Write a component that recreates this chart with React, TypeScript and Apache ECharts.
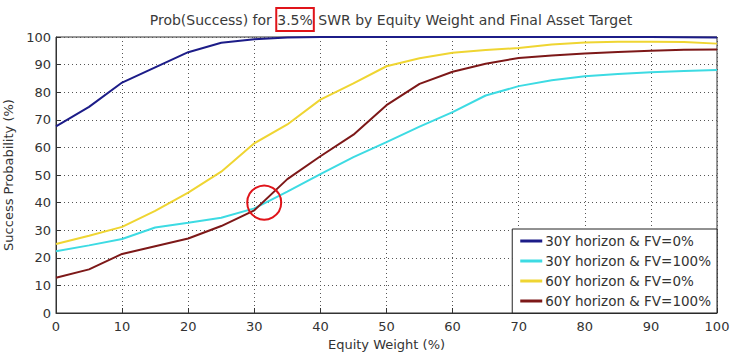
import React, { useEffect, useRef } from "react";
import * as echarts from "echarts";

const equityWeights = [0, 5, 10, 15, 20, 25, 30, 35, 40, 45, 50, 55, 60, 65, 70, 75, 80, 85, 90, 95, 100];
const s30FV0 = [67.6, 74.7, 83.5, 89.0, 94.5, 97.9, 99.2, 99.8, 100, 100, 100, 100, 100, 100, 100, 100, 100, 100, 100, 99.9, 99.8];
const s30FV100 = [22.4, 24.5, 26.8, 31.0, 32.7, 34.5, 37.9, 44.0, 50.3, 56.5, 61.9, 67.5, 72.8, 78.8, 82.2, 84.3, 85.8, 86.6, 87.2, 87.7, 88.0];
const s60FV0 = [25.0, 28.0, 31.2, 37.0, 43.6, 51.2, 61.5, 68.3, 77.3, 83.2, 89.4, 92.3, 94.3, 95.3, 96.0, 97.3, 98.0, 98.3, 98.3, 98.2, 97.6];
const s60FV100 = [12.8, 15.8, 21.4, 24.2, 27.0, 31.5, 37.2, 48.5, 56.8, 64.6, 75.3, 83.0, 87.4, 90.3, 92.4, 93.3, 94.0, 94.6, 95.0, 95.4, 95.5];
const seriesNames = ["30Y horizon & FV=0%", "30Y horizon & FV=100%", "60Y horizon & FV=0%", "60Y horizon & FV=100%"];
const seriesColors = ["#1c1c88", "#3ddbe3", "#efd532", "#7d1818"];
const highlightPoint = [31.5, 40];

const FONT = "DejaVu Sans";

export default function App() {
  const ref = useRef<HTMLDivElement>(null);
  useEffect(() => {
    if (!ref.current) return;
    const chart = echarts.init(ref.current, undefined, { renderer: "svg" });
    const allData = [s30FV0, s30FV100, s60FV0, s60FV100];
    const series: any[] = allData.map((vals, i) => ({
      name: seriesNames[i],
      type: "line",
      data: vals.map((v, j) => [equityWeights[j], v]),
      showSymbol: false,
      lineStyle: { color: seriesColors[i], width: 2 },
      itemStyle: { color: seriesColors[i] },
      z: 3,
    }));
    series[3].markPoint = {
      symbol: "circle",
      symbolSize: 34,
      silent: true,
      label: { show: false },
      itemStyle: { color: "transparent", borderColor: "#e0141a", borderWidth: 2 },
      data: [{ coord: highlightPoint }],
    };
    chart.setOption({
      animation: false,
      backgroundColor: "#ffffff",
      textStyle: { fontFamily: FONT },
      title: {
        text: "{a|Prob(Success) for }{b|3.5%}{a| SWR by Equity Weight and Final Asset Target}",
        left: 386,
        textAlign: "center",
        top: 3,
        textStyle: {
          fontWeight: "normal",
          rich: {
            a: { fontFamily: FONT, fontSize: 14, fontWeight: "normal", color: "#3a3a3a" },
            b: {
              fontFamily: FONT,
              fontSize: 14,
              fontWeight: "normal",
              color: "#3a3a3a",
              borderColor: "#e0141a",
              borderWidth: 2,
              padding: [5, 1, 4, 1],
            },
          },
        },
      },
      grid: {
        left: 56,
        right: 23,
        top: 37,
        bottom: 41,
        outerBoundsMode: "none",
        containLabel: false,
        show: true,
        borderColor: "#333333",
        borderWidth: 1,
        backgroundColor: "#ffffff",
      },
      legend: {
        data: seriesNames,
        orient: "vertical",
        right: 23,
        bottom: 41,
        backgroundColor: "#ffffff",
        borderColor: "#222222",
        borderWidth: 1,
        padding: [5, 6, 5, 8],
        itemGap: 6,
        itemWidth: 22,
        itemHeight: 3,
        icon: "rect",
        textStyle: { fontFamily: FONT, fontSize: 13.5, color: "#333333", padding: [0, 0, 0, -2] },
      },
      xAxis: {
        type: "value",
        min: 0,
        max: 100,
        interval: 10,
        name: "Equity Weight (%)",
        nameLocation: "middle",
        nameGap: 20,
        nameTextStyle: { fontFamily: FONT, fontSize: 13, color: "#333333" },
        axisLine: { lineStyle: { color: "#333333" } },
        axisTick: { inside: true, length: 5, lineStyle: { color: "#333333" } },
        axisLabel: { fontFamily: FONT, fontSize: 13, color: "#333333", margin: 7 },
        splitLine: { show: true, lineStyle: { color: "#555555", type: [1, 3], width: 1 } },
      },
      yAxis: {
        type: "value",
        min: 0,
        max: 100,
        interval: 10,
        name: "Success Probability (%)",
        nameLocation: "middle",
        nameGap: 38,
        nameTextStyle: { fontFamily: FONT, fontSize: 13, color: "#333333" },
        axisLine: { show: true, lineStyle: { color: "#333333" } },
        axisTick: { show: true, inside: true, length: 5, lineStyle: { color: "#333333" } },
        axisLabel: { fontFamily: FONT, fontSize: 13, color: "#333333", margin: 5 },
        splitLine: { show: true, lineStyle: { color: "#555555", type: [1, 3], width: 1 } },
      },
      series,
    });
    return () => chart.dispose();
  }, []);
  return (
    <div
      ref={ref}
      style={{ position: "fixed", left: 0, top: 0, width: 740, height: 354, background: "#ffffff" }}
    />
  );
}
